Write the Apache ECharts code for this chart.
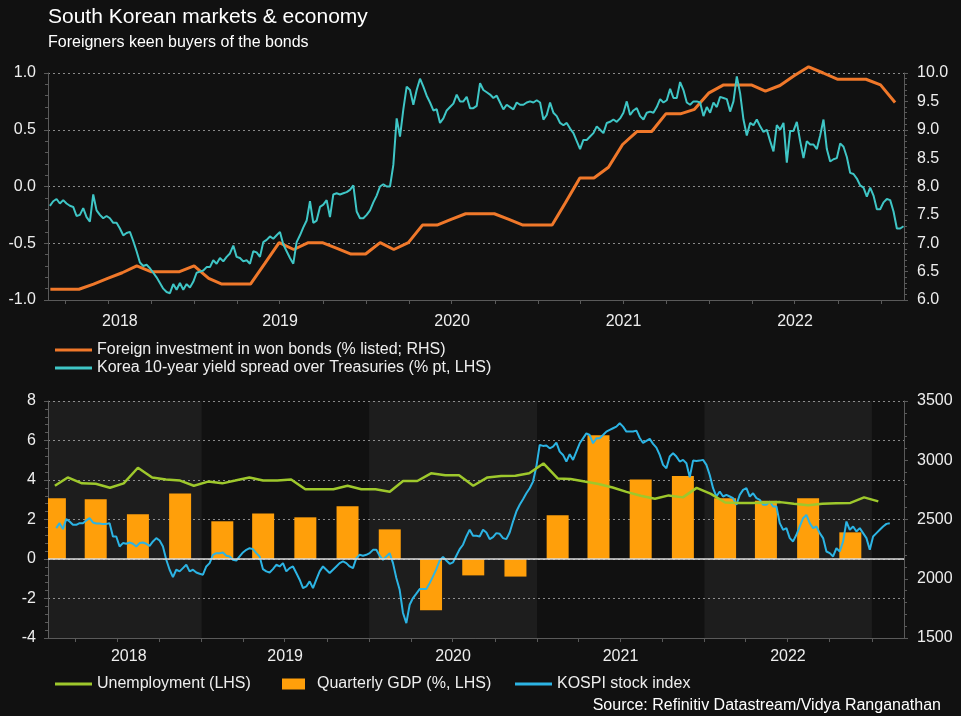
<!DOCTYPE html>
<html><head><meta charset="utf-8">
<script src="https://cdn.jsdelivr.net/npm/echarts@6/dist/echarts.min.js"></script>
<style>html,body{margin:0;padding:0;background:#111111;}#c{width:961px;height:716px;}</style>
</head><body><div id="c"></div>
<script>
// ---------- text ----------
const titleText = 'South Korean markets & economy';
const subtitleText = 'Foreigners keen buyers of the bonds';
const sourceText = 'Source: Refinitiv Datastream/Vidya Ranganathan';
const bondName = 'Foreign investment in won bonds (% listed; RHS)';
const spreadName = 'Korea 10-year yield spread over Treasuries (% pt, LHS)';
const unempName = 'Unemployment (LHS)';
const gdpName = 'Quarterly GDP (%, LHS)';
const kospiName = 'KOSPI stock index';

// ---------- axes / ticks ----------
const yearLabels = ['2018', '2019', '2020', '2021', '2022'];
const yearLabelDates = ['2018-07-26', '2019-07-02', '2020-07-02', '2021-07-02', '2022-07-02'];
const tickYears = [2018, 2019, 2020, 2021, 2022, 2023];
const shadedYears = [2018, 2020, 2022];
const topRange = ['2018-02-23', '2023-02-19'];
const bottomRange = ['2018-01-31', '2023-03-12'];

// ---------- top chart ----------
// Korea 10y minus US 10y spread, weekly, first and last observation dates
const spreadRange = ['2018-02-27', '2023-02-18'];
const spreadValues = [
 -0.17,-0.13,-0.11,-0.15,-0.12,-0.15,-0.17,-0.18,-0.26,-0.25,
 -0.19,-0.27,-0.31,-0.07,-0.21,-0.25,-0.28,-0.26,-0.28,-0.32,
 -0.32,-0.37,-0.43,-0.41,-0.40,-0.48,-0.57,-0.67,-0.70,-0.69,
 -0.72,-0.76,-0.80,-0.85,-0.90,-0.93,-0.94,-0.86,-0.91,-0.85,
 -0.91,-0.86,-0.89,-0.84,-0.76,-0.75,-0.74,-0.71,-0.71,-0.65,
 -0.68,-0.63,-0.66,-0.62,-0.59,-0.52,-0.62,-0.63,-0.66,-0.65,
 -0.68,-0.57,-0.58,-0.62,-0.49,-0.47,-0.44,-0.46,-0.43,-0.40,
 -0.51,-0.57,-0.63,-0.68,-0.49,-0.43,-0.36,-0.30,-0.13,-0.32,
 -0.30,-0.18,-0.16,-0.12,-0.27,-0.07,-0.06,-0.07,-0.06,-0.05,
 -0.03,0.01,-0.22,-0.28,-0.28,-0.25,-0.21,-0.14,-0.08,0.00,
 0.02,0.00,0.00,0.19,0.60,0.44,0.68,0.88,0.85,0.72,
 0.85,0.95,0.88,0.80,0.74,0.67,0.68,0.56,0.60,0.67,
 0.70,0.73,0.81,0.75,0.75,0.79,0.69,0.69,0.71,0.91,
 0.85,0.83,0.81,0.78,0.80,0.74,0.68,0.72,0.70,0.68,
 0.74,0.72,0.72,0.74,0.75,0.74,0.76,0.74,0.59,0.63,
 0.74,0.65,0.62,0.56,0.54,0.56,0.51,0.47,0.40,0.33,
 0.41,0.41,0.44,0.47,0.53,0.50,0.47,0.56,0.57,0.59,
 0.57,0.60,0.65,0.75,0.63,0.67,0.69,0.62,0.59,0.65,
 0.66,0.65,0.70,0.77,0.74,0.76,0.86,0.78,0.78,0.92,
 0.85,0.74,0.72,0.75,0.75,0.74,0.62,0.70,0.65,0.74,
 0.70,0.79,0.78,0.77,0.66,0.75,0.97,0.82,0.59,0.45,
 0.56,0.54,0.59,0.53,0.48,0.50,0.40,0.31,0.54,0.50,
 0.56,0.21,0.49,0.49,0.57,0.40,0.25,0.40,0.37,0.37,
 0.33,0.45,0.59,0.33,0.22,0.24,0.25,0.38,0.35,0.26,
 0.12,0.11,0.07,0.01,-0.01,-0.09,-0.01,-0.08,-0.20,-0.20,
 -0.14,-0.11,-0.12,-0.22,-0.37,-0.37,-0.35
];
// Foreign holdings of won bonds, month-end, Feb 2018 .. Jan 2023
const bondStart = [2018, 2];
const bondValues = [
 6.19,6.19,6.19,6.28,6.38,6.48,6.60,6.50,6.50,6.50,
 6.60,6.38,6.28,6.28,6.28,6.65,7.01,6.89,7.01,7.01,
 6.91,6.81,6.81,7.01,6.89,7.01,7.32,7.32,7.42,7.52,
 7.52,7.52,7.42,7.32,7.32,7.32,7.71,8.15,8.15,8.34,
 8.74,8.97,8.97,9.28,9.28,9.36,9.65,9.79,9.79,9.79,
 9.68,9.78,9.95,10.11,10.00,9.89,9.89,9.89,9.79,9.48
];

// ---------- bottom chart ----------
// Unemployment, monthly Feb 2018 .. Jan 2023
const unempStart = [2018, 2];
const unempValues = [
 3.71,4.13,3.83,3.81,3.61,3.83,4.62,4.13,4.03,3.97,
 3.71,3.92,3.83,3.97,4.13,3.97,3.97,4.03,3.53,3.53,
 3.53,3.71,3.53,3.53,3.41,3.95,3.95,4.34,4.24,4.24,
 3.71,4.13,4.20,4.22,4.34,4.84,4.08,4.05,3.92,3.80,
 3.62,3.40,3.20,3.05,3.22,3.12,3.60,3.30,2.86,2.84,
 2.84,2.86,2.88,2.80,2.72,2.80,2.82,2.84,3.12,2.92
];
// Quarterly GDP y/y, 2018 Q1 .. 2022 Q4
const gdpStartYear = 2018;
const gdpValues = [
 3.07,3.02,2.26,3.32, 1.91,2.31,2.11,2.67, 1.50,-2.60,-0.83,-0.89,
 2.21,6.27,4.03,4.20, 3.07,2.95,3.07,1.35
];
// KOSPI, weekly, first and last observation dates
const kospiRange = ['2018-02-18', '2023-02-09'];
const kospiValues = [
 2427,2469,2419,2503,2483,2455,2455,2469,2469,2492,
 2511,2475,2466,2466,2461,2463,2469,2357,2357,2272,
 2301,2295,2306,2295,2272,2301,2306,2295,2278,2315,
 2343,2323,2272,2160,2076,2014,2076,2062,2090,2118,
 2062,2076,2053,2042,2034,2104,2132,2202,2216,2216,
 2222,2194,2188,2160,2154,2188,2222,2244,2258,2250,
 2216,2188,2081,2062,2053,2081,2118,2104,2132,2062,
 2090,2104,2048,1992,1921,1935,1978,1921,1992,2062,
 2104,2076,2048,2076,2104,2132,2146,2132,2104,2090,
 2174,2202,2194,2202,2216,2244,2244,2194,2160,2188,
 2216,2132,2006,1907,1711,1626,1781,1837,1874,1913,
 1913,1913,1963,2020,2081,2154,2183,2154,2126,2138,
 2194,2250,2287,2357,2413,2362,2362,2357,
 2413,2390,2334,2351,2385,2379,2343,2334,2390,2483,
 2567,2624,2671,2722,2764,2820,2947,3129,3121,3124,
 3101,3115,3149,3073,3045,2989,3051,3003,3073,3143,
 3185,3227,3213,3143,3185,3185,3213,3242,3256,3270,
 3284,3312,3284,3242,3242,3242,3250,3188,3146,3163,
 3180,3138,3107,3045,2961,2933,3031,3059,3031,2989,
 3003,2975,2857,2997,2994,2997,3003,2961,2876,2764,
 2694,2736,2694,2708,2694,2680,2624,2708,2750,2764,
 2694,2722,2680,2666,2624,2624,2652,2610,2610,2469,
 2413,2427,2343,2315,2371,2441,2511,2539,2469,2427,
 2441,2385,2343,2230,2216,2188,2258,2230,2315,2483,
 2413,2441,2399,2427,2385,2343,2244,2357,2385,2413,
 2441,2463,2469
];

// ---------- colours ----------
const C = {
  bg: '#111111', band: 'rgba(255,255,255,0.05)', text: '#eeeeee', grid: '#8a8a8a', axis: '#5a5a5a',
  spread: '#3fc6c6', bond: '#f0782a', unemp: '#9ec82c', gdp: '#ff9f0a', kospi: '#2cb4e4', zero: '#dddddd'
};
const FONT = "'Liberation Sans', Arial, Helvetica, sans-serif";
const AXFS = 16;

// ---------- helpers ----------
function ts(s) { const p = s.split('-').map(Number); return Date.UTC(p[0], p[1] - 1, p[2]); }
function spread(range, values) {
  const a = ts(range[0]), b = ts(range[1]), n = values.length;
  return values.map((v, i) => [a + i * (b - a) / (n - 1), v]);
}
function monthEnd(start, values) { return values.map((v, i) => [Date.UTC(start[0], start[1] + i, 0), v]); }
function midMonth(start, values) { return values.map((v, i) => [Date.UTC(start[0], start[1] - 1 + i, 15), v]); }
function midQuarter(y0, values) { return values.map((v, i) => [Date.UTC(y0, 1 + 3 * i, 15), v]); }

const labelTs = yearLabelDates.map(ts);
function quarterTicks(range) {
  const a = ts(range[0]), b = ts(range[1]), out = [];
  tickYears.forEach(y => [0, 3, 6, 9].forEach(m => { const t = Date.UTC(y, m, 1); if (t > a && t < b) out.push(t); }));
  return out;
}
function xAxisFor(gridIndex, range, margin) {
  return {
    type: 'value', gridIndex: gridIndex, min: ts(range[0]), max: ts(range[1]), scale: true,
    axisLine: { show: true, onZero: false, lineStyle: { color: C.axis, width: 1 } },
    axisTick: { show: true, length: 4, lineStyle: { color: C.axis }, customValues: quarterTicks(range) },
    axisLabel: {
      show: true, customValues: labelTs, color: C.text, fontSize: AXFS, fontFamily: FONT, margin: margin,
      formatter: function (v) { const i = labelTs.indexOf(v); return i >= 0 ? yearLabels[i] : String(new Date(v).getUTCFullYear()); }
    },
    splitLine: { show: false }, minorTick: { show: false }
  };
}
function yAxisFor(gridIndex, pos, min, max, interval, digits, showSplit) {
  return {
    type: 'value', gridIndex: gridIndex, position: pos, min: min, max: max, interval: interval,
    axisLine: { show: true, lineStyle: { color: C.axis } },
    axisTick: { show: true, length: 4, lineStyle: { color: C.axis } },
    minorTick: { show: true, splitNumber: 5, length: 3, lineStyle: { color: C.axis } },
    axisLabel: { color: C.text, fontSize: AXFS, fontFamily: FONT, margin: pos === 'left' ? 12 : 13,
      formatter: v => Number(v).toFixed(digits) },
    splitLine: { show: showSplit, lineStyle: { color: C.grid, type: [2, 3], width: 1 } }
  };
}

const bMin = ts(bottomRange[0]), bMax = ts(bottomRange[1]);
const bandData = shadedYears.map(y => [
  { xAxis: Math.max(Date.UTC(y, 0, 1), bMin) },
  { xAxis: Math.min(Date.UTC(y + 1, 0, 1), bMax) }
]);

// bars drawn through the axes, clipped to the plot area
const BAR_W = 22;
function renderBar(params, api) {
  const t = api.value(0), v = api.value(1);
  const p0 = api.coord([t, 0]), p1 = api.coord([t, v]);
  const cs = params.coordSys;
  const rect = echarts.graphic.clipRectByRect(
    { x: p0[0] - BAR_W / 2, y: Math.min(p0[1], p1[1]), width: BAR_W, height: Math.abs(p1[1] - p0[1]) },
    { x: cs.x, y: cs.y, width: cs.width, height: cs.height });
  return rect && { type: 'rect', shape: rect, style: { fill: C.gdp } };
}

const legendText = { color: C.text, fontSize: 16, fontFamily: FONT };

const option = {
  backgroundColor: C.bg,
  animation: false,
  textStyle: { fontFamily: FONT },
  title: [
    { text: titleText, left: 43, top: 2, textStyle: { color: '#ffffff', fontSize: 21, fontWeight: 'normal', fontFamily: FONT } },
    { text: subtitleText, left: 43, top: 30, textStyle: { color: '#ffffff', fontSize: 16, fontWeight: 'normal', fontFamily: FONT } },
    { text: sourceText, right: 15, top: 693, textStyle: { color: '#ffffff', fontSize: 16, fontWeight: 'normal', fontFamily: FONT } }
  ],
  legend: [
    { data: [bondName, spreadName], orient: 'vertical', left: 50, top: 337, icon: 'rect', itemWidth: 37, itemHeight: 3,
      itemGap: 2, textStyle: legendText, selectedMode: false },
    { data: [unempName], left: 50, top: 671, icon: 'rect', itemWidth: 37, itemHeight: 3, textStyle: legendText, selectedMode: false },
    { data: [gdpName], left: 277, top: 671, icon: 'rect', itemWidth: 23, itemHeight: 11,
      textStyle: Object.assign({ padding: [0, 0, 0, 7] }, legendText), selectedMode: false },
    { data: [kospiName], left: 510, top: 671, icon: 'rect', itemWidth: 37, itemHeight: 3, textStyle: legendText, selectedMode: false }
  ],
  grid: [
    { left: 48, right: 57, top: 73, height: 227, containLabel: false },
    { left: 48, right: 57, top: 401, height: 237, containLabel: false }
  ],
  xAxis: [xAxisFor(0, topRange, 14), xAxisFor(1, bottomRange, 11)],
  yAxis: [
    yAxisFor(0, 'left', -1, 1, 0.5, 1, true),
    yAxisFor(0, 'right', 6, 10, 0.5, 1, false),
    yAxisFor(1, 'left', -4, 8, 2, 0, true),
    yAxisFor(1, 'right', 1500, 3500, 500, 0, false)
  ],
  series: [
    { name: 'bands', type: 'line', xAxisIndex: 1, yAxisIndex: 2, data: [], z: 1, silent: true,
      markArea: { silent: true, itemStyle: { color: C.band }, data: bandData } },
    { name: bondName, type: 'line', xAxisIndex: 0, yAxisIndex: 1, data: monthEnd(bondStart, bondValues),
      symbol: 'none', clip: false, color: C.bond, lineStyle: { color: C.bond, width: 3 }, z: 3 },
    { name: spreadName, type: 'line', xAxisIndex: 0, yAxisIndex: 0, data: spread(spreadRange, spreadValues),
      symbol: 'none', color: C.spread, lineStyle: { color: C.spread, width: 2 }, z: 4 },
    { name: gdpName, type: 'custom', xAxisIndex: 1, yAxisIndex: 2, data: midQuarter(gdpStartYear, gdpValues),
      renderItem: renderBar, encode: { x: 0, y: 1 }, color: C.gdp, itemStyle: { color: C.gdp }, z: 2,
      markLine: { silent: true, symbol: 'none', label: { show: false },
        lineStyle: { color: C.zero, type: 'solid', width: 1.5 }, data: [{ yAxis: 0 }] } },
    { name: kospiName, type: 'line', xAxisIndex: 1, yAxisIndex: 3, data: spread(kospiRange, kospiValues),
      symbol: 'none', color: C.kospi, lineStyle: { color: C.kospi, width: 2 }, z: 3 },
    { name: unempName, type: 'line', xAxisIndex: 1, yAxisIndex: 2, data: midMonth(unempStart, unempValues),
      symbol: 'none', color: C.unemp, lineStyle: { color: C.unemp, width: 2.5 }, z: 4 }
  ]
};
const chart = echarts.init(document.getElementById('c'), null, { renderer: 'canvas' });
chart.setOption(option);
</script>
</body></html>
